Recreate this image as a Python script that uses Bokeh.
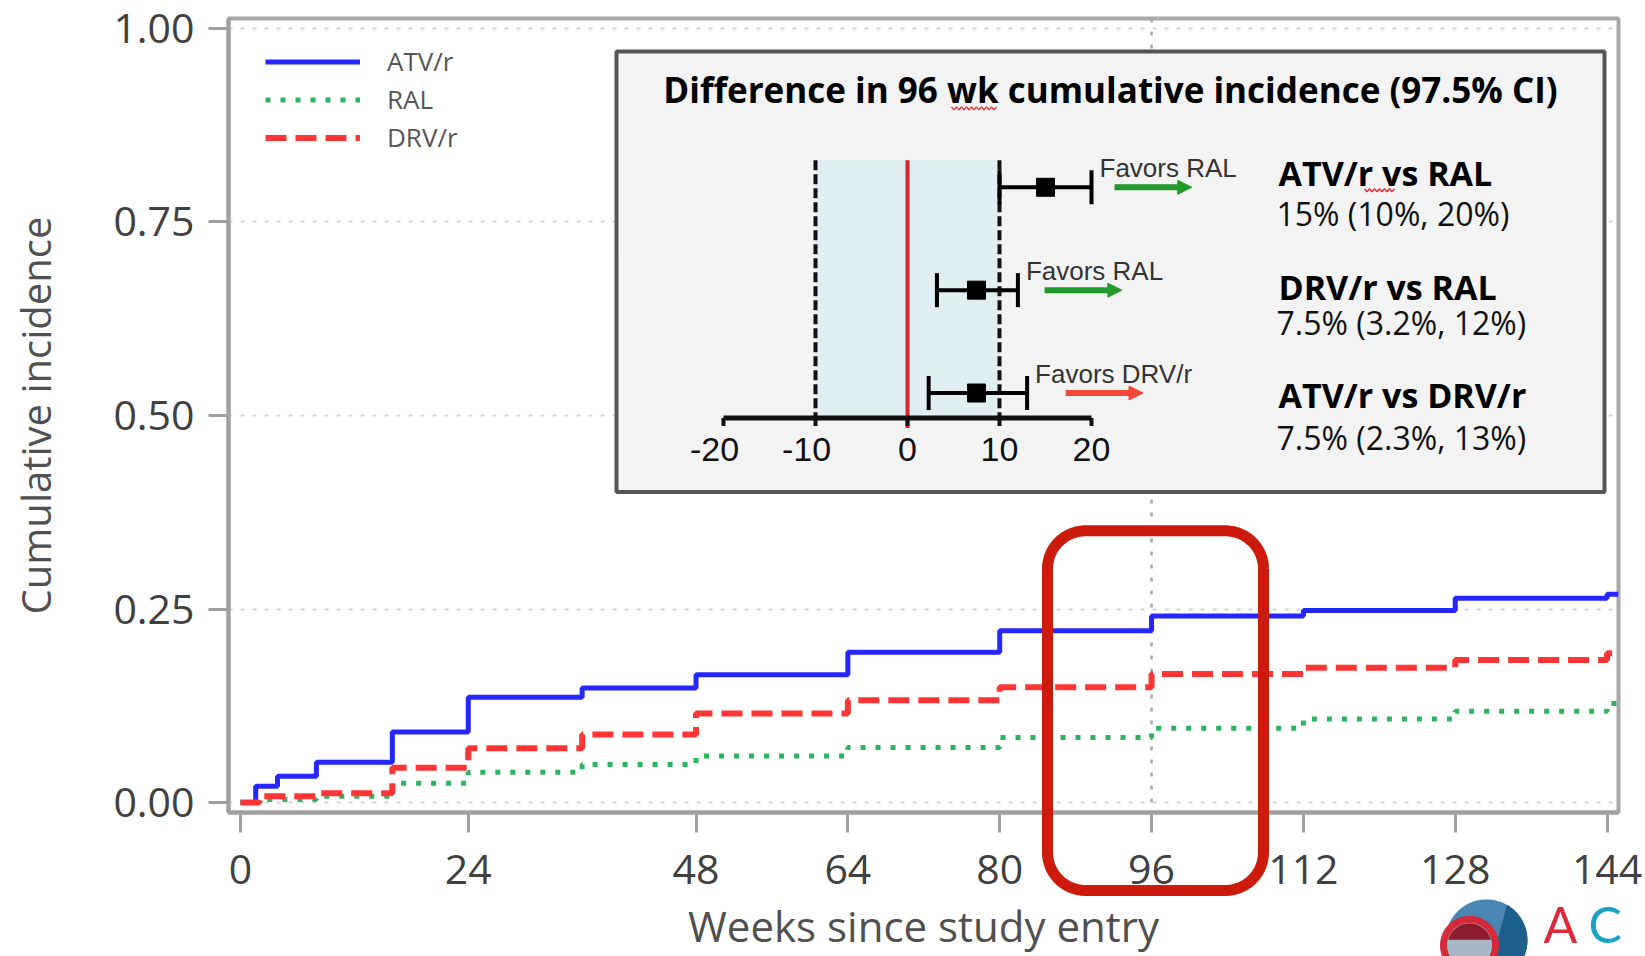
import numpy as np
from bokeh.plotting import figure
from bokeh.models import (Range1d, FixedTicker, Span, Arrow, NormalHead, Legend,
                          LegendItem, NumeralTickFormatter)
from bokeh.core.properties import value
from bokeh.embed import file_html
from bokeh.resources import INLINE

# ---------------- data ----------------
atv_weeks = [0, 1.6, 3.9, 8, 16, 24, 36, 48, 64, 80, 96, 112, 128, 144, 145.2]
atv_inc = [0, 0.021, 0.034, 0.052, 0.091, 0.136, 0.148, 0.165, 0.194, 0.222, 0.241, 0.248, 0.264, 0.269, 0.269]
ral_weeks = [0, 2.5, 8, 16, 24, 36, 48, 64, 80, 96, 112, 128, 144, 145.2]
ral_inc = [0, 0.004, 0.008, 0.025, 0.039, 0.049, 0.060, 0.071, 0.084, 0.096, 0.108, 0.118, 0.128, 0.128]
drv_weeks = [0, 2, 8, 16, 24, 36, 48, 64, 80, 96, 112, 128, 144, 145.2]
drv_inc = [0, 0.008, 0.012, 0.045, 0.070, 0.088, 0.115, 0.132, 0.149, 0.166, 0.174, 0.184, 0.193, 0.193]
series_names = ["ATV/r", "RAL", "DRV/r"]

x_ticks = [0, 24, 48, 64, 80, 96, 112, 128, 144]
y_ticks = [0, 0.25, 0.5, 0.75, 1.0]
comparison_week = 96

inset_title = "Difference in 96 wk cumulative incidence (97.5% CI)"
comparisons = ["ATV/r vs RAL", "DRV/r vs RAL", "ATV/r vs DRV/r"]
diff_est = [15, 7.5, 7.5]
diff_low = [10, 3.2, 2.3]
diff_high = [20, 12, 13]
favored = ["RAL", "RAL", "DRV/r"]
ci_text = ["15% (10%, 20%)", "7.5% (3.2%, 12%)", "7.5% (2.3%, 13%)"]
margin_bounds = [-10, 10]
forest_ticks = [-20, -10, 0, 10, 20]
logo_letters = ["A", "C"]

# ---------------- layout (pixels measured on the reference) ----------------
W, H = 1645, 956
FL, FR, FT, FB = 228, 1618, 18, 813
WK0_PX, PX_PER_WK = 240.0, 9.49
Y0_PX, PX_PER_UNIT = 803.0, 775.0
F0_PX, PX_PER_PCT = 907.0, 9.2
ROW0_PX, PX_PER_ROW = 187.0, 103.0


def mx(px):
    return (np.asarray(px, dtype=float) - WK0_PX) / PX_PER_WK


def my(py):
    return (Y0_PX - np.asarray(py, dtype=float)) / PX_PER_UNIT


def fx(px):
    return (px - F0_PX) / PX_PER_PCT


def fy(py):
    return (py - ROW0_PX) / PX_PER_ROW


BLUE, GREEN, RED = "#2626ff", "#2cb360", "#ff3535"
FAV_COLORS = {"RAL": "#23992b", "DRV/r": "#f2483a"}

p = figure(width=W, height=H, output_backend="svg", toolbar_location=None,
           x_range=Range1d(float(mx(FL)), float(mx(FR))),
           y_range=Range1d(float(my(FB)), float(my(FT))),
           min_border_left=FL, min_border_right=W - FR, min_border_top=FT,
           min_border_bottom=H - FB,
           background_fill_color="white", border_fill_color="white",
           outline_line_color="#a8a8a8", outline_line_width=4)
p.extra_x_ranges = {"fx": Range1d(fx(FL), fx(FR))}
p.extra_y_ranges = {"fy": Range1d(fy(FB), fy(FT))}

# axes
p.xaxis.ticker = FixedTicker(ticks=x_ticks)
p.yaxis.ticker = FixedTicker(ticks=y_ticks)
p.yaxis.formatter = NumeralTickFormatter(format="0.00")
for ax in (p.xaxis[0], p.yaxis[0]):
    ax.axis_line_color = "#a0a0a0"
    ax.axis_line_width = 4
    ax.major_tick_line_color = "#a0a0a0"
    ax.major_tick_line_width = 3
    ax.major_tick_out = 20
    ax.major_tick_in = 0
    ax.minor_tick_line_color = None
    ax.major_label_text_font = "Open Sans"
    ax.major_label_text_font_size = "41px"
    ax.major_label_text_color = "#404040"
    ax.axis_label_text_font = "Open Sans"
    ax.axis_label_text_font_style = "normal"
    ax.axis_label_text_color = "#505050"
p.yaxis.axis_label = "Cumulative incidence"
p.yaxis.axis_label_text_font_size = "40px"
p.xaxis.axis_label = "Weeks since study entry"
p.xaxis.axis_label_text_font_size = "42px"
p.yaxis.major_label_standoff = 14
p.yaxis.axis_label_standoff = 47
p.xaxis.major_label_standoff = 22
p.xaxis.axis_label_standoff = 10

p.xgrid.visible = False
p.ygrid.ticker = FixedTicker(ticks=y_ticks)
p.ygrid.grid_line_color = "#d5d5d5"
p.ygrid.grid_line_width = 2
p.ygrid.grid_line_dash = "4 8"

p.add_layout(Span(location=comparison_week, dimension="height", line_color="#a8a8a8",
                  line_width=2.5, line_dash="4 9", level="underlay"))

# step curves
r_atv = p.step(atv_weeks, atv_inc, mode="after", line_color=BLUE, line_width=5)
r_ral = p.step(ral_weeks, ral_inc, mode="after", line_color=GREEN, line_width=5,
               line_dash="5 10")
r_drv = p.step(drv_weeks, drv_inc, mode="after", line_color=RED, line_width=6,
               line_dash="21 9")

legend = Legend(items=[LegendItem(label=series_names[0], renderers=[r_atv]),
                       LegendItem(label=series_names[1], renderers=[r_ral]),
                       LegendItem(label=series_names[2], renderers=[r_drv])],
                location=(37, 657),
                label_text_font="Open Sans", label_text_font_size="26px",
                label_text_color="#555555", glyph_width=95, glyph_height=31,
                label_height=31, spacing=2, padding=0, margin=0, label_standoff=27,
                border_line_color=None, background_fill_alpha=0)
p.add_layout(legend)

# ---------------- inset forest plot ----------------
p.quad(left=float(mx(616)), right=float(mx(1604)), top=float(my(51)),
       bottom=float(my(492)), fill_color="#f3f3f3", line_color="#555555", line_width=4)

F = dict(x_range_name="fx", y_range_name="fy")
rows = list(range(len(comparisons)))
AX_PX = 418

p.quad(left=margin_bounds[0], right=margin_bounds[1], top=fy(160), bottom=fy(AX_PX),
       fill_color="#e1eff3", line_color=None, **F)
p.segment(x0=margin_bounds, y0=fy(160), x1=margin_bounds, y1=fy(AX_PX),
          line_color="#111111", line_width=4, line_dash="10 4", **F)
p.segment(x0=0, y0=fy(160), x1=0, y1=fy(428), line_color="#d9232b", line_width=4, **F)
p.segment(x0=forest_ticks[0], y0=fy(AX_PX), x1=forest_ticks[-1], y1=fy(AX_PX),
          line_color="#111111", line_width=5, **F)
p.segment(x0=forest_ticks, y0=fy(AX_PX), x1=forest_ticks, y1=fy(AX_PX + 8),
          line_color="#111111", line_width=4, **F)
p.text(x=forest_ticks, y=fy(450), text=[str(t) for t in forest_ticks],
       x_offset=[-9 if t < 0 else 0 for t in forest_ticks],
       text_align="center", text_baseline="middle", text_font=value("Liberation Sans"),
       text_font_size="34px", text_color="#111111", **F)

p.segment(x0=diff_low, y0=rows, x1=diff_high, y1=rows, line_color="black",
          line_width=4, **F)
p.rect(x=diff_low + diff_high, y=rows + rows, width=4, height=34,
       width_units="screen", height_units="screen", fill_color="black",
       line_color=None, **F)
p.scatter(x=diff_est, y=rows, marker="square", size=18, color="black", **F)

p.text(x=diff_high, y=rows, text=["Favors " + f for f in favored], x_offset=8,
       y_offset=-19, text_align="left", text_baseline="middle",
       text_font=value("Liberation Sans"), text_font_size="26px", text_color="#333333",
       **F)
arrow_shift = [2.5, 2.9, 4.2]
for i in rows:
    c = FAV_COLORS[favored[i]]
    xs = diff_high[i] + arrow_shift[i]
    p.add_layout(Arrow(x_start=xs, y_start=rows[i], x_end=xs + 8.4, y_end=rows[i],
                       line_color=c, line_width=6,
                       end=NormalHead(size=14, fill_color=c, line_color=c), **F))

p.text(x=fx(1110), y=fy(89), text=[inset_title], text_align="center",
       text_baseline="middle", text_font=value("Open Sans"), text_font_style="bold",
       text_font_size="35px", text_color="black", **F)
p.text(x=fx(1278), y=[fy(173), fy(287), fy(395)], text=comparisons, text_align="left",
       text_baseline="middle", text_font=value("Open Sans"), text_font_style="bold",
       text_font_size="34px", text_color="black", **F)
p.text(x=fx(1276), y=[fy(213), fy(322), fy(438)], text=ci_text, text_align="left",
       text_baseline="middle", text_font=value("Open Sans"), text_font_size="32px",
       text_color="#111111", **F)

# spell-check squiggles under "wk" and "vs"
for x0p, x1p, yp in [(951, 997, 108), (1364, 1396, 190)]:
    zx = np.arange(x0p, x1p + 0.1, 2.5)
    zy = yp + np.where(np.arange(len(zx)) % 2 == 0, -1.5, 1.5)
    p.line(x=fx(zx), y=fy(zy), line_color="#e23a3a", line_width=1.5, **F)

# ---------------- highlight box (rounded rectangle) & logo ----------------
bl, br, bt, bb, rad = 1047.0, 1263.0, 531.0, 891.0, 38.0
path_x, path_y = [], []
for cx, cy, a0 in [(br - rad, bt + rad, 0), (bl + rad, bt + rad, 90),
                   (bl + rad, bb - rad, 180), (br - rad, bb - rad, 270)]:
    ang = np.radians(np.linspace(a0, a0 + 90, 16))
    path_x.extend(cx + rad * np.cos(ang))
    path_y.extend(cy - rad * np.sin(ang))
path_x.append(path_x[0])
path_y.append(path_y[0])
p.line(x=mx(path_x), y=my(path_y), line_color="#cc1a0c", line_width=11,
       line_join="round", level="overlay")


def circle_path(cxp, cyp, rp, a0=0, a1=360):
    t = np.radians(np.linspace(a0, a1, 60))
    return mx(cxp + rp * np.cos(t)), my(cyp - rp * np.sin(t))


lx, ly = circle_path(1486, 941, 41)
p.patch(x=lx, y=ly, fill_color="#4a86b4", line_color=None, level="overlay")
lx, ly = circle_path(1486, 941, 41, -90, 60)
p.patch(x=lx, y=ly, fill_color="#1d5f8c", line_color=None, level="overlay")
lx, ly = circle_path(1469, 946, 26)
p.patch(x=lx, y=ly, fill_color="#a9b8c8", line_color="#d42a3a", line_width=7,
        level="overlay")
lx, ly = circle_path(1469, 946, 22, 15, 165)
p.patch(x=lx, y=ly, fill_color="#8e1b2c", line_color=None, level="overlay")
p.text(x=[float(mx(1543)), float(mx(1588))], y=[float(my(955))] * 2, text=logo_letters,
       text_color=["#e0283c", "#1ba3c3"], text_font=value("Lato"),
       text_font_size="50px", text_baseline="bottom", text_align="left",
       level="overlay")

open("out.html", "w").write(file_html(p, INLINE))
